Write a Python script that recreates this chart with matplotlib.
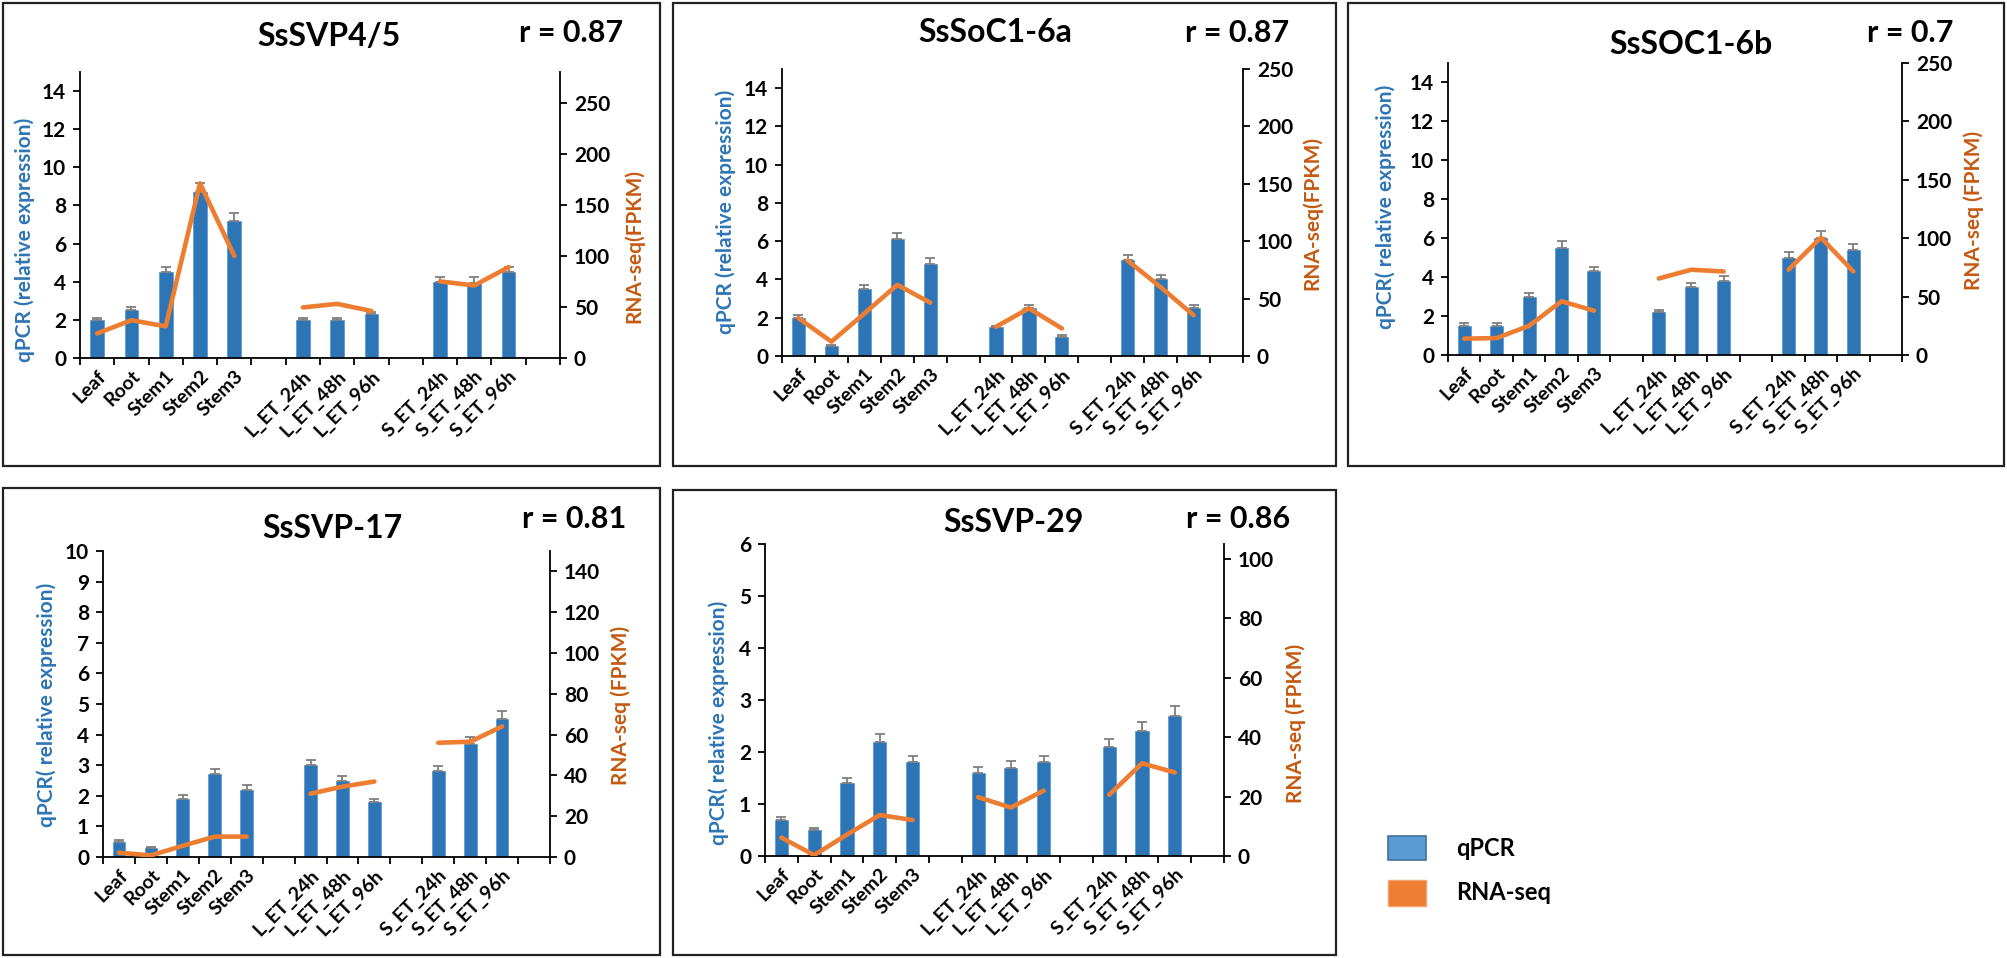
import numpy as np
import matplotlib
matplotlib.use("Agg")
import matplotlib.pyplot as plt
from matplotlib.patches import Rectangle

plt.rcParams['font.family'] = ['Lato', 'DejaVu Sans']
plt.rcParams['font.weight'] = 'bold'

# ---- data ----
categories = ['Leaf', 'Root', 'Stem1', 'Stem2', 'Stem3',
              'L_ET_24h', 'L_ET_48h', 'L_ET_96h',
              'S_ET_24h', 'S_ET_48h', 'S_ET_96h']
group_sizes = [5, 3, 3]

svp45_qpcr = [2.0, 2.5, 4.5, 8.7, 7.2, 2.0, 2.0, 2.3, 4.0, 3.95, 4.5]
svp45_err = [0.12, 0.17, 0.28, 0.5, 0.43, 0.12, 0.12, 0.13, 0.26, 0.3, 0.28]
svp45_rna = [24, 37, 31, 171, 100, 49.5, 53, 46, 75, 71, 89]

soc6a_qpcr = [2.0, 0.5, 3.5, 6.1, 4.8, 1.5, 2.5, 1.0, 5.0, 4.0, 2.5]
soc6a_err = [0.13, 0.07, 0.2, 0.35, 0.3, 0.08, 0.15, 0.08, 0.28, 0.23, 0.15]
soc6a_rna = [33, 12.5, 37, 62, 46.5, 25.5, 41.5, 24, 83, 60, 35.5]

soc6b_qpcr = [1.5, 1.5, 3.0, 5.5, 4.3, 2.2, 3.5, 3.8, 5.0, 6.0, 5.4]
soc6b_err = [0.13, 0.13, 0.2, 0.38, 0.23, 0.12, 0.2, 0.25, 0.3, 0.35, 0.3]
soc6b_rna = [14, 14.5, 25, 46, 38, 65.5, 73, 71.5, 73, 100.5, 71.5]

svp17_qpcr = [0.5, 0.3, 1.9, 2.7, 2.2, 3.0, 2.5, 1.8, 2.8, 3.7, 4.5]
svp17_err = [0.04, 0.03, 0.12, 0.17, 0.14, 0.18, 0.15, 0.1, 0.17, 0.22, 0.28]
svp17_rna = [2.1, 0.8, 5.5, 10, 10, 31, 34.5, 37, 56, 56.5, 64]

svp29_qpcr = [0.7, 0.5, 1.4, 2.2, 1.8, 1.6, 1.7, 1.8, 2.1, 2.4, 2.7]
svp29_err = [0.05, 0.04, 0.1, 0.15, 0.13, 0.12, 0.12, 0.13, 0.15, 0.17, 0.19]
svp29_rna = [6.2, 0.3, 7.2, 13.8, 12.1, 19.8, 16.3, 22, 20.6, 31.2, 28.1]

BLUE = '#2E75B6'
ORANGE = '#ED7D31'
DARK_ORANGE = '#C55A11'
W, H = 2007, 958

fig = plt.figure(figsize=(W / 100, H / 100), dpi=100)


def fx(x):
    return x / W


def fy(y):
    return 1 - y / H


# category positions with one empty slot between groups
pos = []
start = 0
for n in group_sizes:
    pos += list(range(start, start + n))
    start += n + 1
pos = np.array(pos)
nslots = start - 1


def panel(box, axbox, title, title_xy, r_text, r_xy, qpcr, err, rna,
          ylim, yticks, y2lim, y2ticks, ylab, ylab_xy, y2lab, y2lab_xy):
    # outer frame
    x0, y0, x1, y1 = box
    fig.patches.append(Rectangle((fx(x0), fy(y1)), fx(x1 - x0), (y1 - y0) / H,
                                 transform=fig.transFigure, fill=False,
                                 edgecolor='#222222', lw=1.6))
    l, r, t, b = axbox
    ax = fig.add_axes([fx(l), fy(b), fx(r - l), (b - t) / H])
    ax.bar(pos, qpcr, width=0.4, color=BLUE, edgecolor='#5B9BD5', lw=0.6, zorder=2)
    ax.errorbar(pos, qpcr, yerr=[np.zeros(len(err)), err], fmt='none',
                ecolor='#7F7F7F', elinewidth=1.3, capsize=3.3, capthick=1.3, zorder=3)
    ax.set_xlim(-0.5, nslots + 0.5)
    ax.set_ylim(*ylim)
    ax.set_yticks(yticks)
    ax.set_xticks(np.arange(-0.5, nslots + 1))
    ax.set_xticklabels([])
    ax.set_xticks(pos, minor=True)
    ax.set_xticklabels(categories, minor=True, rotation=45, ha='right',
                       rotation_mode='anchor', fontsize=14)
    ax.tick_params(axis='x', which='minor', length=0, pad=7)
    ax.tick_params(axis='x', which='major', length=5, width=1.3, direction='out')
    ax.tick_params(axis='y', length=5, width=1.3, labelsize=15, pad=5)
    for s in ['top', 'right']:
        ax.spines[s].set_visible(False)
    for s in ['left', 'bottom']:
        ax.spines[s].set_linewidth(1.3)

    ax2 = ax.twinx()
    start = 0
    for n in group_sizes:
        ax2.plot(pos[start:start + n], rna[start:start + n], color=ORANGE,
                 lw=3.3, solid_capstyle='round', solid_joinstyle='round')
        start += n
    ax2.set_ylim(*y2lim)
    ax2.set_yticks(y2ticks)
    ax2.tick_params(axis='y', length=5, width=1.3, labelsize=15, pad=5)
    for s in ['top', 'left', 'bottom']:
        ax2.spines[s].set_visible(False)
    ax2.spines['right'].set_linewidth(1.3)

    fig.text(fx(title_xy[0]), fy(title_xy[1]), title, ha='center', va='center',
             fontsize=23, fontweight='bold')
    fig.text(fx(r_xy[0]), fy(r_xy[1]), r_text, ha='center', va='center',
             fontsize=22, fontweight='bold')
    fig.text(fx(ylab_xy[0]), fy(ylab_xy[1]), ylab, rotation=90, ha='center',
             va='center', color=BLUE, fontsize=15, fontweight='bold')
    fig.text(fx(y2lab_xy[0]), fy(y2lab_xy[1]), y2lab, rotation=90, ha='center',
             va='center', color=DARK_ORANGE, fontsize=15, fontweight='bold')


panel((3, 3, 660, 466), (80, 560, 72, 358), 'SsSVP4/5', (329, 36), 'r = 0.87', (571, 33),
      svp45_qpcr, svp45_err, svp45_rna, (0, 15), range(0, 15, 2), (0, 280), range(0, 251, 50),
      'qPCR (relative expression)', (25, 240), 'RNA-seq(FPKM)', (634, 246))

panel((673, 3, 1336, 466), (782, 1243, 69, 356), 'SsSoC1-6a', (995, 33), 'r = 0.87', (1237, 33),
      soc6a_qpcr, soc6a_err, soc6a_rna, (0, 15), range(0, 15, 2), (0, 250), range(0, 251, 50),
      'qPCR (relative expression)', (726, 212), 'RNA-seq(FPKM)', (1312, 213))

panel((1348, 3, 2004, 466), (1448, 1902, 63, 355), 'SsSOC1-6b', (1691, 44), 'r = 0.7', (1910, 33),
      soc6b_qpcr, soc6b_err, soc6b_rna, (0, 15), range(0, 15, 2), (0, 250), range(0, 251, 50),
      'qPCR( relative expression)', (1386, 207), 'RNA-seq (FPKM)', (1974, 210))

panel((3, 488, 660, 955), (103, 550, 551, 857), 'SsSVP-17', (332, 529), 'r = 0.81', (574, 519),
      svp17_qpcr, svp17_err, svp17_rna, (0, 10), range(0, 11), (0, 150), range(0, 141, 20),
      'qPCR( relative expression)', (47, 705), 'RNA-seq (FPKM)', (621, 705))

panel((673, 490, 1336, 955), (765, 1224, 544, 856), 'SsSVP-29', (1013, 523), 'r = 0.86', (1238, 519),
      svp29_qpcr, svp29_err, svp29_rna, (0, 6), range(0, 7), (0, 105), range(0, 101, 20),
      'qPCR( relative expression)', (719, 723), 'RNA-seq (FPKM)', (1296, 723))

# legend
fig.patches.append(Rectangle((fx(1388), fy(860)), fx(38), 24 / H, transform=fig.transFigure,
                             facecolor='#5B9BD5', edgecolor='#41719C', lw=1.2))
fig.patches.append(Rectangle((fx(1388), fy(906)), fx(38), 26 / H, transform=fig.transFigure,
                             facecolor=ORANGE, edgecolor='#F4A46A', lw=1.0))
fig.text(fx(1456), fy(848), 'qPCR', ha='left', va='center', fontsize=17, fontweight='bold')
fig.text(fx(1456), fy(893), 'RNA-seq', ha='left', va='center', fontsize=17, fontweight='bold')

fig.savefig('out.png', dpi=100, facecolor='white')
